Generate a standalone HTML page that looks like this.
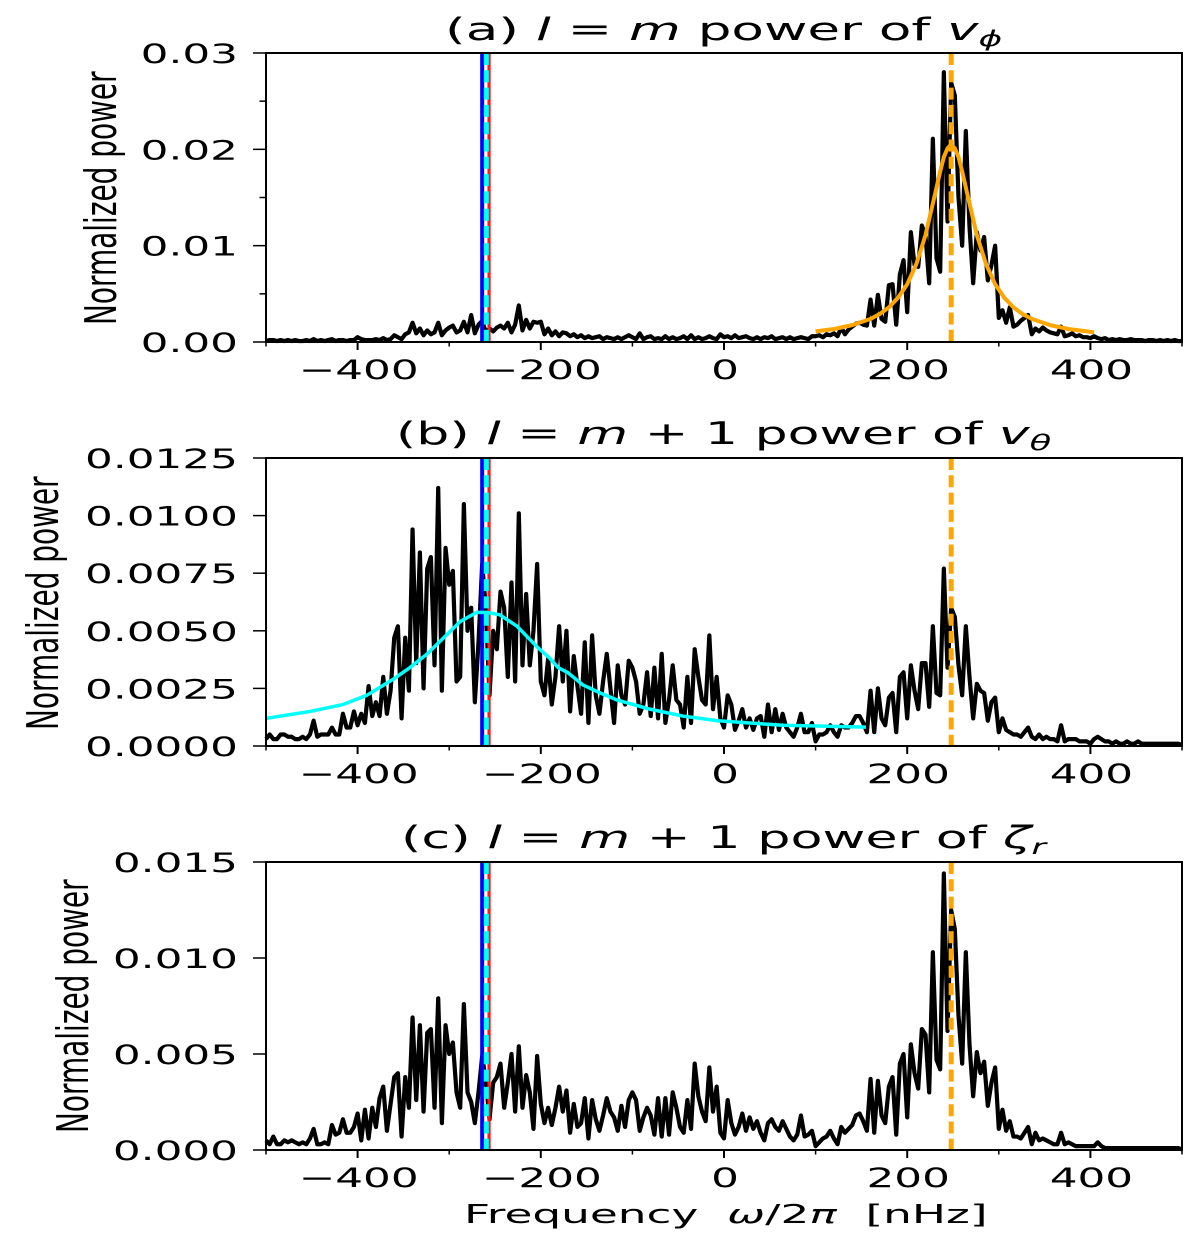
<!DOCTYPE html>
<html lang="en">
<head>
<meta charset="utf-8">
<title>Normalized power spectra</title>
<style>
html,body{margin:0;padding:0;background:#fff;}
svg{display:block;}
text{font-family:"DejaVu Sans","Liberation Sans",sans-serif;fill:#000;}
</style>
</head>
<body>
<svg id="chart" width="1200" height="1233" viewBox="0 0 1200 1233" xmlns="http://www.w3.org/2000/svg">
  <rect x="0" y="0" width="1200" height="1233" fill="#fff"/>

  <g id="panel-a"></g>
  <g id="panel-b"></g>
  <g id="panel-c"></g>

  <text transform="translate(445,40) scale(1.715,1)" font-size="31">(a) <tspan font-style="italic">l</tspan> = <tspan font-style="italic">m</tspan> power of <tspan font-style="italic">v</tspan><tspan font-style="italic" font-size="21" dy="6">ϕ</tspan></text>
  <text transform="translate(396,444) scale(1.68,1)" font-size="31">(b) <tspan font-style="italic">l</tspan> = <tspan font-style="italic">m</tspan> + 1 power of <tspan font-style="italic">v</tspan><tspan font-style="italic" font-size="21" dy="6">θ</tspan></text>
  <text transform="translate(401,848) scale(1.69,1)" font-size="31">(c) <tspan font-style="italic">l</tspan> = <tspan font-style="italic">m</tspan> + 1 power of <tspan font-style="italic">ζ</tspan><tspan font-style="italic" font-size="21" dy="6">r</tspan></text>

  <text transform="translate(116,325) rotate(-90) scale(0.635,1)" font-size="44">Normalized power</text>
  <text transform="translate(58,730) rotate(-90) scale(0.635,1)" font-size="44">Normalized power</text>
  <text transform="translate(88,1133) rotate(-90) scale(0.635,1)" font-size="44">Normalized power</text>

  <text transform="translate(464,1223) scale(1.745,1)" font-size="26">Frequency&#160;&#160;<tspan font-style="italic">ω</tspan>/2<tspan font-style="italic">π</tspan>&#160;&#160;[nHz]</text>
</svg>

<script>
// Frequency grid in nHz
const frequencies = [
-500,-496,-492,-488,-484,-480,-476,-472,-468,-464,-460,-456,-452,-448,-444,-440,-436,-432,-428,-424,-420,-416,-412,-408,-404,
-400,-396,-392,-388,-384,-380,-376,-372,-368,-364,-360,-356,-352,-348,-344,-340,-336,-332,-328,-324,-320,-316,-312,-308,-304,
-300,-296,-292,-288,-284,-280,-276,-272,-268,-264,-260,-256,-252,-248,-244,-240,-236,-232,-228,-224,-220,-216,-212,-208,-204,
-200,-196,-192,-188,-184,-180,-176,-172,-168,-164,-160,-156,-152,-148,-144,-140,-136,-132,-128,-124,-120,-116,-112,-108,-104,
-100,-96,-92,-88,-84,-80,-76,-72,-68,-64,-60,-56,-52,-48,-44,-40,-36,-32,-28,-24,-20,-16,-12,-8,-4,
0,4,8,12,16,20,24,28,32,36,40,44,48,52,56,60,64,68,72,76,80,84,88,92,96,
100,104,108,112,116,120,124,128,132,136,140,144,148,152,156,160,164,168,172,176,180,184,188,192,196,
200,204,208,212,216,220,224,228,232,236,240,244,248,252,256,260,264,268,272,276,280,284,288,292,296,
300,304,308,312,316,320,324,328,332,336,340,344,348,352,356,360,364,368,372,376,380,384,388,392,396,
400,404,408,412,416,420,424,428,432,436,440,444,448,452,456,460,464,468,472,476,480,484,488,492,496,500
];

// Measured power, in units of 1e-4
const powerA = [
1,2,2,1,2,1,2,1,2,1,1,2,1,3,1,2,1,2,3,1,2,2,1,2,2,
5,3,2,2,2,3,2,4,2,3,7,5,3,8,10,20,9,14,7,12,8,10,20,7,12,
15,17,10,12,21,10,28,9,18,22,10,14,11,15,17,14,20,10,18,38,12,23,14,21,20,
21,8,14,7,11,6,10,9,6,8,5,7,4,6,4,5,6,3,5,4,3,5,3,5,7,
5,3,9,3,5,6,3,4,3,6,3,5,3,4,6,3,7,3,5,3,4,6,4,3,8,
5,6,4,7,4,5,6,4,3,5,3,5,4,6,3,4,5,3,5,3,4,5,4,3,6,
6,7,5,8,7,9,6,15,8,13,16,19,20,18,17,44,17,49,24,21,59,60,18,70,85,
31,114,80,78,121,110,61,211,87,73,280,125,269,256,150,100,219,120,61,114,95,109,64,80,100,
25,33,20,36,16,18,22,25,28,8,14,11,15,12,10,9,8,16,6,7,9,6,7,5,5,
4,6,4,3,4,2,3,2,3,2,2,3,2,2,2,1,2,2,1,2,1,2,1,2,1,1
];
const powerB = [
3,5,3,3,5,5,4,4,3,3,4,3,5,11,4,5,5,5,8,5,5,14,8,8,15,
9,14,10,26,13,19,13,30,14,24,47,52,12,47,24,94,36,84,25,77,82,35,112,24,86,
70,76,28,30,105,50,60,19,45,79,60,22,50,42,67,60,30,71,28,101,35,66,35,50,79,
28,22,38,18,30,52,28,50,15,39,26,14,45,10,48,22,14,28,40,25,10,35,22,18,37,
34,28,14,18,32,13,34,12,40,10,20,35,20,18,8,30,10,42,30,20,18,48,16,30,12,
8,22,18,7,11,16,8,12,7,12,13,4,18,6,16,7,14,8,6,4,8,14,6,6,10,
2,5,5,6,9,6,4,9,8,8,10,13,13,10,6,24,6,25,12,9,21,23,6,30,32,
12,35,24,16,36,36,17,52,23,22,77,34,60,56,35,22,52,30,12,27,24,23,11,19,21,
6,12,7,6,5,5,4,6,8,4,3,5,3,4,3,3,2,9,2,3,3,3,2,2,2,
1,3,4,3,2,2,1,2,1,1,2,1,1,2,1,1,1,1,1,1,1,1,1,1,1,0.5
];
const powerC = [
5,3,7,3,3,5,4,5,4,3,4,3,6,11,3,3,4,3,13,8,9,16,9,9,12,
19,5,21,6,22,12,27,33,10,24,38,40,7,38,22,69,26,65,20,61,63,22,79,14,65,
50,56,30,22,76,30,25,14,30,49,36,16,35,38,45,22,35,50,20,54,22,39,30,11,49,
24,14,22,13,22,33,20,31,9,24,12,14,27,6,26,16,10,18,27,20,17,10,23,12,26,
30,26,10,17,22,18,8,27,7,27,8,30,22,12,9,26,11,45,28,20,15,43,20,33,9,
6,26,14,8,12,19,10,17,11,15,9,5,14,16,12,10,15,11,7,5,8,18,7,8,10,
2,4,6,7,10,6,3,12,9,11,13,18,19,15,10,37,9,36,18,14,33,38,8,45,50,
17,55,40,32,63,60,30,103,47,42,144,62,125,115,70,45,103,55,28,51,40,46,23,35,43,
11,21,10,15,7,7,6,9,12,3,9,5,6,5,4,3,3,9,3,4,3,2,2,2,2,
2,2,4,2,1,1,1,1,1,1,1,1,1,1,1,1,1,1,1,1,1,1,1,1,1,0.3
];

// Fitted curves
const fitFreqA = [100,120,140,160,170,180,190,200,210,220,230,236,240,244,248,252,256,260,266,276,286,296,306,316,326,336,356,376,396,404];
const fitPowerA = [11,13.5,17.5,24,29,36,46,60,81,111,152,177,192,201,205,201,192,177,152,111,81,60,46,36,29,24,17.5,13.5,11,10];
const fitFreqB = [-500,-452,-416,-390,-361,-343,-324,-306,-288,-270,-259,-245,-226,-204,-190,-181,-171,-154,-135,-117,-81,-45,-8,28,64,101,155];
const fitPowerB = [12,15,18,22,29,34,40,47,54,58,58,57,52,43,38,34,32,26.5,23,20,16,13,11,10,9,8.7,8.2];

// Reference frequencies in nHz
const sectoralMarkerFreq = 248;
const blueMarkerFreq = -264;
const cyanMarkerFreq = -259.5;
const redMarkerFreq = -256.5;

// Tick values
const xMajorTicks = [-400,-200,0,200,400];
const xMinorTicks = [-500,-300,-100,100,300,500];
const yMajorTicksA = [0,0.01,0.02,0.03];
const yMinorTicksA = [0.005,0.015,0.025];
const yLabelsA = ["0.00","0.01","0.02","0.03"];
const yMajorTicksB = [0,0.0025,0.005,0.0075,0.01,0.0125];
const yLabelsB = ["0.0000","0.0025","0.0050","0.0075","0.0100","0.0125"];
const yMajorTicksC = [0,0.005,0.01,0.015];
const yLabelsC = ["0.000","0.005","0.010","0.015"];

const SVGNS = "http://www.w3.org/2000/svg";
const plotLeft = 266, plotRight = 1182;
const xMin = -500, xMax = 500;
const powerUnit = 1e-4;

function xScale(f){ return plotLeft + (f - xMin) / (xMax - xMin) * (plotRight - plotLeft); }
function makeYScale(top, bottom, yMax){ return function(v){ return bottom - v / yMax * (bottom - top); }; }

function svgEl(tag, attrs){
  const el = document.createElementNS(SVGNS, tag);
  for (const k in attrs) el.setAttribute(k, attrs[k]);
  return el;
}
function linePath(xs, ys, yScale){
  let d = "";
  for (let i = 0; i < xs.length; i++){
    d += (i ? "L" : "M") + xScale(xs[i]).toFixed(2) + " " + yScale(ys[i] * powerUnit).toFixed(2);
  }
  return d;
}
function addVertical(g, f, top, bottom, color, width, dash, name){
  const el = svgEl("line", {x1:xScale(f), x2:xScale(f), y1:top, y2:bottom, stroke:color, "stroke-width":width});
  if (dash) el.setAttribute("stroke-dasharray", dash);
  
  
  g.appendChild(el);
}

function drawPanel(cfg){
  const g = document.getElementById(cfg.id);
  const y = makeYScale(cfg.top, cfg.bottom, cfg.yMax);

  const series = svgEl("path", {d:linePath(frequencies, cfg.power, y), fill:"none", stroke:"#000", "stroke-width":4.2, "stroke-linejoin":"round"});
  
  
  g.appendChild(series);

  addVertical(g, redMarkerFreq, cfg.top, cfg.bottom, "#ff1a1a", 3.2, null, "red-frequency-marker");
  addVertical(g, blueMarkerFreq, cfg.top, cfg.bottom, "#0000ff", 4, null, "blue-frequency-marker");
  addVertical(g, cyanMarkerFreq, cfg.top, cfg.bottom, "#00ffff", 5, "12 5.3", "cyan-frequency-marker");
  addVertical(g, sectoralMarkerFreq, cfg.top, cfg.bottom, "#ffa500", 5, "12 5.3", "orange-frequency-marker");

  if (cfg.fitX){
    const fit = svgEl("path", {d:linePath(cfg.fitX, cfg.fitY, y), fill:"none", stroke:cfg.fitColor, "stroke-width":cfg.fitWidth, "stroke-linejoin":"round"});
    
    
    g.appendChild(fit);
  }

  const frame = svgEl("rect", {x:plotLeft, y:cfg.top, width:plotRight - plotLeft, height:cfg.bottom - cfg.top, fill:"none", stroke:"#000", "stroke-width":2});
  
  
  g.appendChild(frame);

  xMajorTicks.forEach(function(t){
    const tick = svgEl("line", {x1:xScale(t), x2:xScale(t), y1:cfg.bottom, y2:cfg.bottom + 8, stroke:"#000", "stroke-width":2});
    
    
    g.appendChild(tick);
    const label = svgEl("text", {"font-size":26.5, "text-anchor":"middle", transform:"translate(" + (xScale(t) + 1) + "," + (cfg.bottom + 37) + ") scale(1.65,1)"});
    label.textContent = (t < 0 ? "\u2212" : "") + Math.abs(t);
    
    
    g.appendChild(label);
  });
  xMinorTicks.forEach(function(t){
    const tick = svgEl("line", {x1:xScale(t), x2:xScale(t), y1:cfg.bottom, y2:cfg.bottom + 4.5, stroke:"#000", "stroke-width":1.5});
    
    
    g.appendChild(tick);
  });
  cfg.yMajor.forEach(function(t, i){
    const tick = svgEl("line", {x1:plotLeft - 13, x2:plotLeft, y1:y(t), y2:y(t), stroke:"#000", "stroke-width":1.5});
    
    
    g.appendChild(tick);
    const label = svgEl("text", {"font-size":26.5, "text-anchor":"end", transform:"translate(238," + (y(t) + 10) + ") scale(1.65,1)"});
    label.textContent = cfg.yLabels[i];
    
    
    g.appendChild(label);
  });
  (cfg.yMinor || []).forEach(function(t){
    const tick = svgEl("line", {x1:plotLeft - 6.5, x2:plotLeft, y1:y(t), y2:y(t), stroke:"#000", "stroke-width":1.5});
    
    
    g.appendChild(tick);
  });
}

drawPanel({id:"panel-a", top:53, bottom:342, yMax:0.03, power:powerA, yMajor:yMajorTicksA, yMinor:yMinorTicksA, yLabels:yLabelsA, fitX:fitFreqA, fitY:fitPowerA, fitColor:"#ffa500", fitWidth:4});
drawPanel({id:"panel-b", top:458, bottom:746, yMax:0.0125, power:powerB, yMajor:yMajorTicksB, yLabels:yLabelsB, fitX:fitFreqB, fitY:fitPowerB, fitColor:"#00ffff", fitWidth:3.5});
drawPanel({id:"panel-c", top:862, bottom:1150, yMax:0.015, power:powerC, yMajor:yMajorTicksC, yLabels:yLabelsC});
</script>
</body>
</html>
